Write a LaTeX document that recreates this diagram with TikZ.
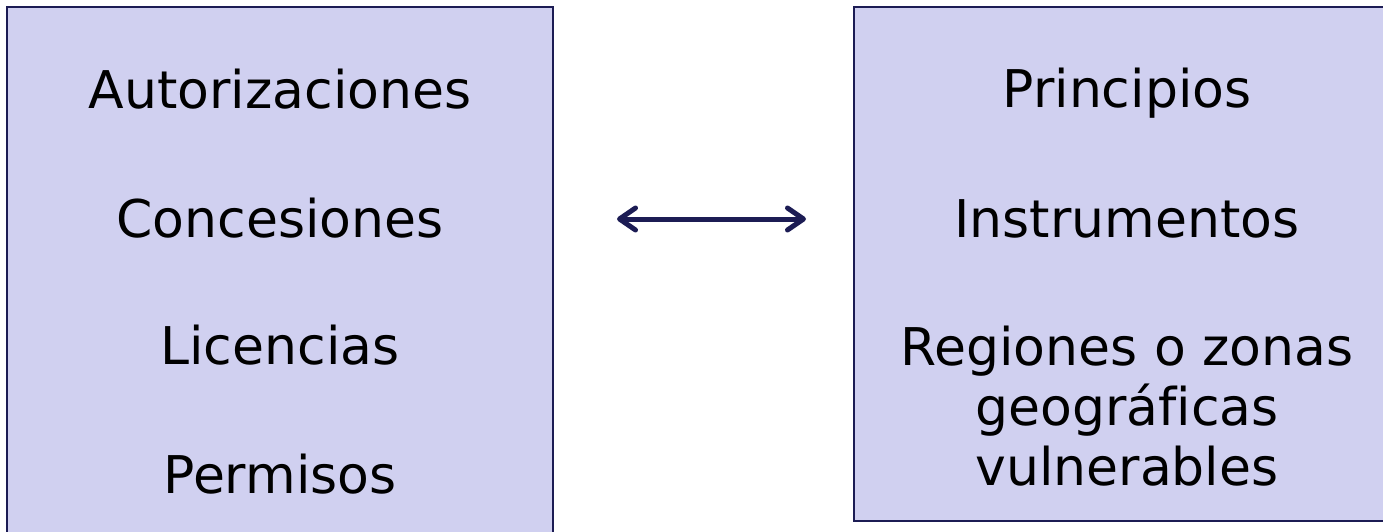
\documentclass[tikz,border=0pt]{standalone}
\usepackage{fontspec}
\setmainfont[Ligatures=NoCommon]{DejaVu Sans}
\usetikzlibrary{arrows.meta}
\definecolor{boxfill}{RGB}{208,208,240}
\definecolor{navy}{RGB}{28,28,84}
\begin{document}
\begin{tikzpicture}[x=1pt,y=-1pt,
  panel/.style={draw=navy,line width=2.5pt,fill=boxfill},
  lbl/.style={anchor=base,inner sep=0pt,font=\fontsize{52}{60}\selectfont,text=black},
  barb/.tip={Straight Barb[length=16pt,width=22pt,round]},
  link/.style={draw=navy,line width=5pt,barb-barb}]
\useasboundingbox (0,0) rectangle (1383,532);
\fill[white] (0,0) rectangle (1383,532);
\draw[panel] (7,7) rectangle (553,545);
\draw[panel] (854,7) rectangle (1400,521);
\node[lbl] (a) at (280,109) {Autorizaciones};
\node[lbl] (b) at (280,237) {Concesiones};
\node[lbl] (c) at (280,364) {Licencias};
\node[lbl] (d) at (280,493) {Permisos};
\node[lbl] (e) at (1127,108) {Principios};
\node[lbl] (f) at (1127,237) {Instrumentos};
\node[lbl] (g) at (1127,365) {Regiones o zonas};
\node[lbl] (h) at (1127,425) {geográf\kern0pt icas};
\node[lbl] (i) at (1127,485) {vulnerables};
\coordinate (p) at (617,219);
\coordinate (q) at (806,219);
\draw[link] (p) -- (q);
\end{tikzpicture}
\end{document}
